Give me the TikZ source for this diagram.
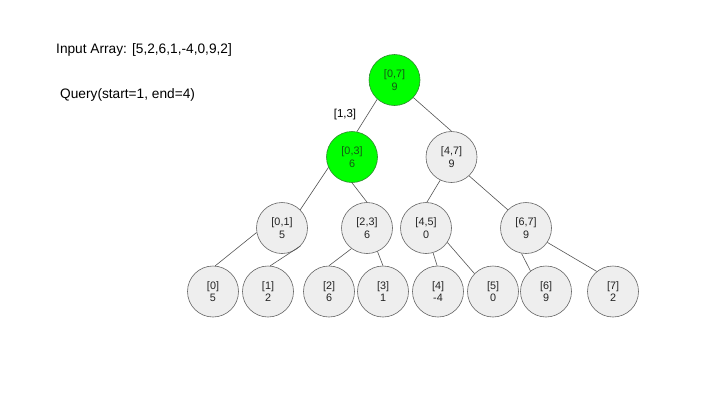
\documentclass[tikz,border=0pt]{standalone}
\usepackage{fontspec}
\setmainfont{Liberation Sans}
\definecolor{gfill}{HTML}{00FF00}
\definecolor{gline}{HTML}{2D8A2D}
\definecolor{gtext}{HTML}{155515}
\definecolor{nfill}{HTML}{EEEEEE}
\definecolor{nline}{HTML}{666666}
\definecolor{ntext}{HTML}{222222}
\definecolor{eline}{HTML}{555555}
\tikzset{
  seg/.style={circle, draw=nline, fill=nfill, text=ntext, minimum size=51pt, inner sep=0pt,
    font=\fontsize{10.8}{12.5}\selectfont, align=center, line width=0.6pt},
  hit/.style={seg, draw=gline, fill=gfill, text=gtext},
  edge/.style={draw=eline, line width=0.6pt},
  lbl/.style={font=\fontsize{13.7}{16}\selectfont, anchor=west, inner sep=0pt, text=black}
}
\begin{document}
\begin{tikzpicture}[x=1pt,y=-1pt]
\useasboundingbox[fill=white] (0,0) rectangle (720,405);
\node[lbl] (arr) at (56,50) {Input Array: [5,2,6,1,-4,0,9,2]};
\node[lbl] (qry) at (60,95) {Query(start=1, end=4)};
\node[hit] (r) at (394.5,80) {[0,7]\\9};
\node[hit] (a) at (352,157) {[0,3]\\6};
\node[seg] (b) at (451.5,157) {[4,7]\\9};
\node[seg] (c) at (282,228) {[0,1]\\5};
\node[seg] (d) at (367,228) {[2,3]\\6};
\node[seg] (e) at (426,228) {[4,5]\\0};
\node[seg] (f) at (526,228) {[6,7]\\9};
\node[seg] (l0) at (213,291.5) {[0]\\5};
\node[seg] (l1) at (268,291.5) {[1]\\2};
\node[seg] (l2) at (329,291.5) {[2]\\6};
\node[seg] (l3) at (383,291.5) {[3]\\1};
\node[seg] (l4) at (438,291.5) {[4]\\-4};
\node[seg] (l5) at (493,291.5) {[5]\\0};
\node[seg] (l6) at (546,291.5) {[6]\\9};
\node[seg] (l7) at (613,291.5) {[7]\\2};
\node[font=\fontsize{11.5}{13}\selectfont, inner sep=0pt] (q) at (345,115) {[1,3]};
\draw[edge] (r.228) -- (a.79);
\draw[edge] (r.-43) -- (b.90);
\draw[edge] (a.204) -- (c.45);
\draw[edge] (a.-90) -- (d.90);
\draw[edge] (b.-116) -- (e.88);
\draw[edge] (b.-47) -- (f.135);
\draw[edge] (c.190) -- (l0.85);
\draw[edge] (c.-44) -- (l1.85);
\draw[edge] (d.-127) -- (l2.90);
\draw[edge] (d.-66) -- (l3.90);
\draw[edge] (e.-74) -- (l4.92);
\draw[edge] (e.-34) -- (l5.136);
\draw[edge] (f.-100) -- (l6.127);
\draw[edge] (f.-34) -- (l7.129);
\end{tikzpicture}
\end{document}
